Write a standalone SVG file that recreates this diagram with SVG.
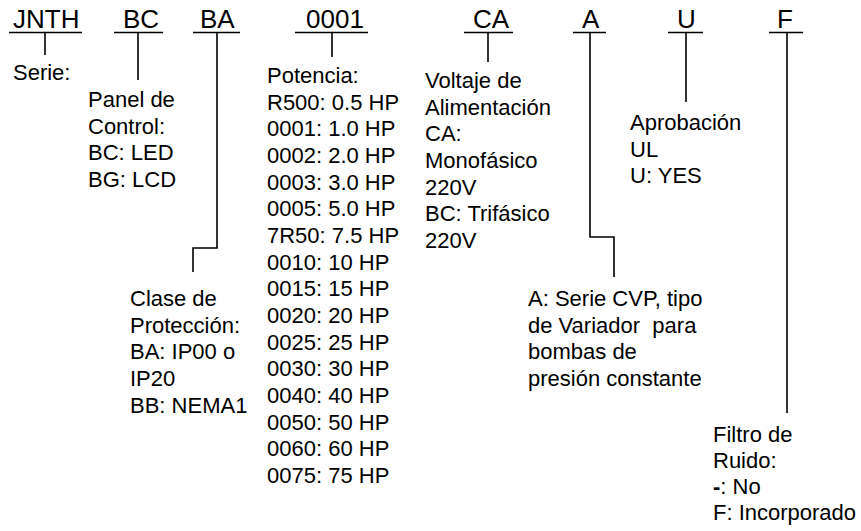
<svg xmlns="http://www.w3.org/2000/svg" width="861" height="531" viewBox="0 0 861 531">
<style>
text{font-family:"Liberation Sans",Arial,sans-serif;fill:#000;white-space:pre}
.code{font-size:26px}
.body{font-size:22px}
.ln{stroke:#000;stroke-width:1.6;fill:none}
</style>
<rect width="861" height="531" fill="#fff"/>
<g id="codes">
<g id="code-jnth"><text class="code" x="13" y="28">JNTH</text></g>
<g id="code-bc"><text class="code" x="123" y="28">BC</text></g>
<g id="code-ba"><text class="code" x="200" y="28">BA</text></g>
<g id="code-0001"><text class="code" x="306" y="28">0001</text></g>
<g id="code-ca"><text class="code" x="473" y="28">CA</text></g>
<g id="code-a"><text class="code" x="582" y="28">A</text></g>
<g id="code-u"><text class="code" x="677" y="28">U</text></g>
<g id="code-f"><text class="code" x="777" y="28">F</text></g>
</g>
<g id="connectors" class="ln">
<path d="M9 32.5H82M45 32.5V55"/>
<path d="M114 32.5H163M138 32.5V80"/>
<path d="M193 32.5H240M217 32.5V248H193V272"/>
<path d="M295 32.5H368M332 32.5V57"/>
<path d="M464 32.5H513M488 32.5V62"/>
<path d="M573 32.5H606M590 32.5V237H614V277"/>
<path d="M668 32.5H703M686 32.5V102"/>
<path d="M769 32.5H803M787 32.5V413"/>
</g>
<g id="serie"><text class="body" x="13" y="80">Serie:</text></g>
<g id="panel">
<text class="body" x="88" y="107">Panel de</text>
<text class="body" x="88" y="133.7">Control:</text>
<text class="body" x="88" y="160.3">BC: LED</text>
<text class="body" x="88" y="187">BG: LCD</text>
</g>
<g id="clase">
<text class="body" x="130" y="306">Clase de</text>
<text class="body" x="130" y="332.7">Protección:</text>
<text class="body" x="130" y="359.3">BA: IP00 o</text>
<text class="body" x="130" y="386">IP20</text>
<text class="body" x="130" y="412.7">BB: NEMA1</text>
</g>
<g id="potencia">
<text class="body" x="267" y="83">Potencia:</text>
<text class="body" x="267" y="109.7">R500: 0.5 HP</text>
<text class="body" x="267" y="136.3">0001: 1.0 HP</text>
<text class="body" x="267" y="163">0002: 2.0 HP</text>
<text class="body" x="267" y="189.7">0003: 3.0 HP</text>
<text class="body" x="267" y="216.3">0005: 5.0 HP</text>
<text class="body" x="267" y="243">7R50: 7.5 HP</text>
<text class="body" x="267" y="269.7">0010: 10 HP</text>
<text class="body" x="267" y="296.3">0015: 15 HP</text>
<text class="body" x="267" y="323">0020: 20 HP</text>
<text class="body" x="267" y="349.7">0025: 25 HP</text>
<text class="body" x="267" y="376.3">0030: 30 HP</text>
<text class="body" x="267" y="403">0040: 40 HP</text>
<text class="body" x="267" y="429.7">0050: 50 HP</text>
<text class="body" x="267" y="456.3">0060: 60 HP</text>
<text class="body" x="267" y="483">0075: 75 HP</text>
</g>
<g id="voltaje">
<text class="body" x="425" y="88">Voltaje de</text>
<text class="body" x="425" y="114.7">Alimentación</text>
<text class="body" x="425" y="141.3">CA:</text>
<text class="body" x="425" y="168">Monofásico</text>
<text class="body" x="425" y="194.7">220V</text>
<text class="body" x="425" y="221.3">BC: Trifásico</text>
<text class="body" x="425" y="248">220V</text>
</g>
<g id="serie-a">
<text class="body" x="528" y="306">A: Serie CVP, tipo</text>
<text class="body" x="528" y="332.7">de Variador  para</text>
<text class="body" x="528" y="359.3">bombas de</text>
<text class="body" x="528" y="386">presión constante</text>
</g>
<g id="aprobacion">
<text class="body" x="630" y="130">Aprobación</text>
<text class="body" x="630" y="156.5">UL</text>
<text class="body" x="630" y="183">U: YES</text>
</g>
<g id="filtro">
<text class="body" x="713" y="442">Filtro de</text>
<text class="body" x="713" y="468">Ruido:</text>
<text class="body" x="713" y="494"><tspan font-weight="bold">-</tspan>: No</text>
<text class="body" x="713" y="520">F: Incorporado</text>
</g>
</svg>
